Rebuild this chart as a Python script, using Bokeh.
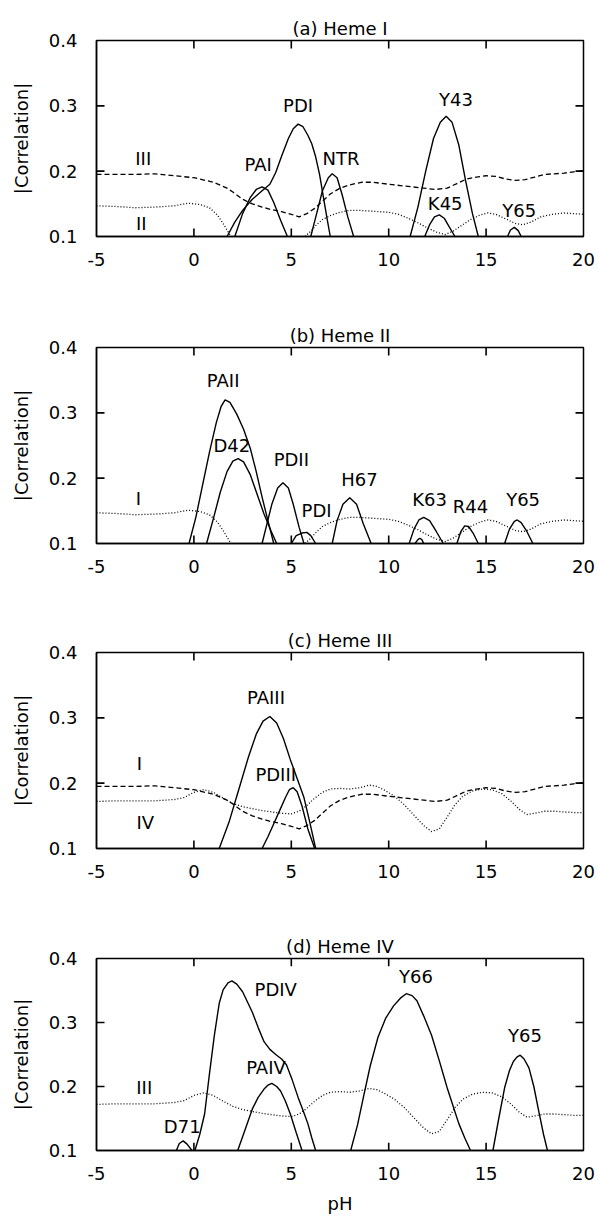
import math
from bokeh.plotting import figure
from bokeh.layouts import column
from bokeh.models import Range1d, FixedTicker, Label, PrintfTickFormatter
from bokeh.embed import file_html
from bokeh.resources import INLINE

NAN = float("nan")

# ---------------- data ----------------
x_ticks = [-5, 0, 5, 10, 15, 20]
x_tick_labels = ["-5", "0", "5", "10", "15", "20"]
y_ticks = [0.1, 0.2, 0.3, 0.4]
y_tick_labels = ["0.1", "0.2", "0.3", "0.4"]
titles = ["(a) Heme I", "(b) Heme II", "(c) Heme III", "(d) Heme IV"]

hemeI_III_x = [-5, -4, -3, -2, -1, 0, 1, 1.7, 2, 2.5, 3, 3.5, 4, 4.5, 5, 5.4, 5.8, 6.2, 6.6, 7.0, 7.5,
               8, 8.6, 9.2, 10, 10.6, 11.2, 11.8, 12.4, 13, 13.5, 14, 14.5, 15, 15.5, 16, 16.5, 17,
               17.5, 18, 18.5, 19, 19.5, 20]
hemeI_III_y = [0.195, 0.195, 0.195, 0.196, 0.193, 0.19, 0.183, 0.174, 0.168, 0.157, 0.15, 0.145,
               0.141, 0.138, 0.134, 0.13, 0.135, 0.143, 0.154, 0.165, 0.174, 0.179, 0.183, 0.183,
               0.18, 0.178, 0.176, 0.174, 0.172, 0.174, 0.181, 0.188, 0.191, 0.193, 0.192, 0.188,
               0.186, 0.187, 0.191, 0.195, 0.196, 0.197, 0.199, 0.201]

hemeI_II_x = [-5, -4, -3, -2, -1, -0.3, 0.3, 0.8, 1.2, 1.5, 1.8, 1.9, NAN, 5.7, 6.0, 6.3, 6.6, 7.0,
              7.5, 8.0, 8.5, 9.0, 9.5, 10, 10.5, 11, 11.5, 12, 12.5, 12.9, 13.3, 13.7, 14.2, 14.7,
              15.1, 15.5, 16, 16.5, 16.9, 17.3, 17.8, 18.4, 19, 19.5, 20]
hemeI_II_y = [0.147, 0.146, 0.144, 0.145, 0.147, 0.151, 0.149, 0.144, 0.133, 0.12, 0.105, 0.1, NAN,
              0.1, 0.108, 0.118, 0.126, 0.132, 0.137, 0.14, 0.14, 0.139, 0.138, 0.137, 0.134, 0.128,
              0.121, 0.113, 0.106, 0.103, 0.108, 0.116, 0.126, 0.133, 0.136, 0.134, 0.127, 0.12,
              0.118, 0.122, 0.13, 0.134, 0.136, 0.135, 0.134]

hemeIII_IV_x = [-5, -4, -3, -2, -1, -0.5, 0, 0.5, 1.0, 1.5, 2.0, 2.5, 3, 3.5, 4, 4.5, 5.0, 5.4, 5.8,
                6.2, 6.6, 7.0, 7.5, 8.0, 8.5, 9.0, 9.4, 9.8, 10.3, 10.8, 11.3, 11.8, 12.2, 12.6, 13.0,
                13.4, 13.8, 14.3, 14.8, 15.3, 15.8, 16.3, 16.7, 17.1, 17.5, 18, 18.5, 19, 19.5, 20]
hemeIII_IV_y = [0.172, 0.173, 0.173, 0.173, 0.175, 0.178, 0.186, 0.19, 0.186, 0.177, 0.169, 0.164,
                0.161, 0.158, 0.156, 0.154, 0.153, 0.157, 0.166, 0.177, 0.186, 0.191, 0.192, 0.191,
                0.193, 0.197, 0.195, 0.189, 0.18, 0.167, 0.151, 0.135, 0.126, 0.13, 0.148, 0.167,
                0.18, 0.188, 0.191, 0.19, 0.184, 0.172, 0.16, 0.152, 0.154, 0.157, 0.157, 0.156,
                0.155, 0.155]

a_PAI_x = [2.1, 2.5, 2.9, 3.2, 3.5, 3.8, 4.1, 4.45, 4.8]
a_PAI_y = [0.1, 0.135, 0.16, 0.172, 0.176, 0.171, 0.152, 0.125, 0.1]
a_PDI_x = [1.7, 2.1, 2.5, 3.0, 3.5, 3.9, 4.2, 4.5, 4.85, 5.1, 5.35, 5.6, 5.85, 6.05, 6.25, 6.45, 6.65, 6.85, 7.0]
a_PDI_y = [0.1, 0.122, 0.14, 0.157, 0.17, 0.18, 0.198, 0.223, 0.25, 0.265, 0.272, 0.268, 0.255, 0.242, 0.222, 0.195, 0.16, 0.125, 0.1]
a_NTR_x = [6.0, 6.3, 6.6, 6.9, 7.1, 7.35, 7.6, 7.9, 8.2]
a_NTR_y = [0.1, 0.135, 0.17, 0.19, 0.196, 0.19, 0.165, 0.13, 0.1]
a_Y43_x = [11.1, 11.5, 11.9, 12.3, 12.65, 12.95, 13.25, 13.6, 13.95, 14.3, 14.6]
a_Y43_y = [0.1, 0.145, 0.2, 0.25, 0.275, 0.284, 0.275, 0.24, 0.185, 0.135, 0.1]
a_K45_x = [11.85, 12.1, 12.35, 12.6, 12.85, 13.1, 13.4]
a_K45_y = [0.1, 0.118, 0.13, 0.133, 0.128, 0.115, 0.1]
a_Y65_x = [16.1, 16.25, 16.45, 16.65, 16.8]
a_Y65_y = [0.1, 0.11, 0.114, 0.109, 0.1]

b_PAII_x = [-0.25, 0.1, 0.45, 0.8, 1.15, 1.4, 1.6, 1.85, 2.2, 2.55, 2.9, 3.2, 3.5, 3.8, 4.1]
b_PAII_y = [0.1, 0.14, 0.19, 0.24, 0.285, 0.31, 0.32, 0.316, 0.298, 0.275, 0.245, 0.21, 0.171, 0.135, 0.1]
b_D42_x = [0.65, 1.0, 1.35, 1.7, 2.0, 2.27, 2.55, 2.9, 3.25, 3.6, 3.95, 4.25]
b_D42_y = [0.1, 0.138, 0.178, 0.21, 0.226, 0.23, 0.225, 0.205, 0.175, 0.145, 0.12, 0.1]
b_PDII_x = [3.5, 3.75, 4.0, 4.3, 4.57, 4.85, 5.1, 5.4, 5.65]
b_PDII_y = [0.1, 0.13, 0.16, 0.185, 0.193, 0.185, 0.16, 0.125, 0.1]
b_PDI_x = [5.0, 5.25, 5.55, 5.8, 6.0, 6.25]
b_PDI_y = [0.1, 0.112, 0.116, 0.117, 0.112, 0.1]
b_H67_x = [7.1, 7.35, 7.65, 8.0, 8.35, 8.7, 9.1]
b_H67_y = [0.1, 0.135, 0.16, 0.17, 0.16, 0.13, 0.1]
b_K63_x = [11.05, 11.3, 11.55, 11.8, 12.1, 12.45, 12.8]
b_K63_y = [0.1, 0.122, 0.136, 0.14, 0.135, 0.118, 0.1]
b_K75_x = [11.35, 11.5, 11.6, 11.7, 11.8]
b_K75_y = [0.1, 0.106, 0.108, 0.106, 0.1]
b_R44_x = [13.5, 13.7, 13.9, 14.1, 14.35, 14.6]
b_R44_y = [0.1, 0.118, 0.127, 0.126, 0.115, 0.1]
b_Y65_x = [15.95, 16.2, 16.45, 16.6, 16.8, 17.1, 17.4]
b_Y65_y = [0.1, 0.122, 0.134, 0.136, 0.132, 0.118, 0.1]

c_PAIII_x = [1.3, 1.8, 2.3, 2.8, 3.2, 3.55, 3.9, 4.25, 4.6, 4.95, 5.3, 5.65, 5.95, 6.25]
c_PAIII_y = [0.1, 0.14, 0.19, 0.24, 0.275, 0.295, 0.302, 0.292, 0.268, 0.236, 0.207, 0.178, 0.14, 0.1]
c_PDIII_x = [3.5, 3.8, 4.1, 4.4, 4.7, 4.9, 5.1, 5.3, 5.55, 5.85, 6.2]
c_PDIII_y = [0.1, 0.118, 0.138, 0.158, 0.178, 0.19, 0.193, 0.187, 0.165, 0.13, 0.1]

d_D71_x = [-0.9, -0.75, -0.55, -0.35, -0.1]
d_D71_y = [0.1, 0.111, 0.115, 0.11, 0.1]
d_PDIV_x = [0.05, 0.3, 0.55, 0.8, 1.05, 1.3, 1.5, 1.75, 1.95, 2.2, 2.5, 2.75, 3.0, 3.3, 3.6, 3.9,
            4.2, 4.5, 4.75, 5.05, 5.35, 5.6, 5.85, 6.05, 6.25]
d_PDIV_y = [0.1, 0.125, 0.157, 0.22, 0.28, 0.33, 0.351, 0.362, 0.365, 0.36, 0.348, 0.332, 0.316,
            0.292, 0.27, 0.258, 0.25, 0.243, 0.234, 0.21, 0.183, 0.163, 0.142, 0.12, 0.1]
d_PAIV_x = [2.25, 2.6, 3.0, 3.3, 3.6, 3.8, 4.0, 4.25, 4.45, 4.7, 4.95, 5.25, 5.55]
d_PAIV_y = [0.1, 0.13, 0.165, 0.183, 0.196, 0.202, 0.205, 0.2, 0.193, 0.177, 0.157, 0.128, 0.1]
d_Y66_x = [8.05, 8.4, 8.7, 9.05, 9.45, 9.85, 10.25, 10.6, 10.9, 11.2, 11.45, 11.8, 12.2, 12.6,
           13.0, 13.3, 13.6, 13.9, 14.2]
d_Y66_y = [0.1, 0.14, 0.183, 0.232, 0.277, 0.307, 0.326, 0.338, 0.345, 0.342, 0.334, 0.31, 0.28,
           0.24, 0.198, 0.17, 0.142, 0.12, 0.1]
d_Y65_x = [15.35, 15.65, 15.95, 16.2, 16.4, 16.58, 16.75, 16.95, 17.2, 17.45, 17.7, 17.95, 18.15]
d_Y65_y = [0.1, 0.15, 0.198, 0.225, 0.239, 0.246, 0.249, 0.243, 0.229, 0.2, 0.162, 0.125, 0.1]

a_lab_text = ["PAI", "PDI", "NTR", "Y43", "K45", "Y65", "III", "II"]
a_lab_x = [3.3, 5.35, 7.55, 13.45, 12.9, 16.7, -2.6, -2.7]
a_lab_y = [0.21, 0.30, 0.22, 0.31, 0.15, 0.14, 0.219, 0.12]
b_lab_text = ["PAII", "D42", "PDII", "PDI", "H67", "K63", "R44", "Y65", "K75", "I"]
b_lab_x = [1.5, 1.95, 5.0, 6.3, 8.5, 12.1, 14.2, 16.9, 12.0, -2.85]
b_lab_y = [0.35, 0.25, 0.228, 0.151, 0.198, 0.167, 0.157, 0.167, 0.08, 0.169]
c_lab_text = ["PAIII", "PDIII", "I", "IV"]
c_lab_x = [3.7, 4.2, -2.8, -2.5]
c_lab_y = [0.331, 0.213, 0.23, 0.14]
d_lab_text = ["PDIV", "Y66", "Y65", "PAIV", "III", "D71"]
d_lab_x = [4.2, 11.4, 17.0, 3.7, -2.55, -0.6]
d_lab_y = [0.351, 0.372, 0.28, 0.229, 0.199, 0.138]

FONT = "DejaVu Sans"
FS = "18px"
X_MIN, X_MAX = -5, 20
Y_MIN, Y_MAX = 0.1, 0.4
FIG_W, BORDER_L, BORDER_R, FRAME_H = 598, 96, 15, 196
TICK_PX = 8
TICK_COLOR = "black"


def make_panel(title, solids, dashed, dotted, labels, height, top, bottom, xlabel=None):
    p = figure(width=FIG_W, height=height, output_backend="svg", toolbar_location=None,
               x_range=Range1d(X_MIN, X_MAX), y_range=Range1d(Y_MIN, Y_MAX),
               min_border_left=BORDER_L, min_border_right=BORDER_R, min_border_top=top,
               min_border_bottom=bottom, title=title)
    p.title.align = "center"
    p.title.text_font = FONT
    p.title.text_font_size = FS
    p.title.text_font_style = "normal"
    p.title.text_color = "black"
    p.title.standoff = 3
    p.outline_line_color = "black"
    p.outline_line_width = 1.5
    p.xgrid.grid_line_color = None
    p.ygrid.grid_line_color = None
    p.background_fill_color = "white"
    p.border_fill_color = "white"

    for ax in (p.xaxis[0], p.yaxis[0]):
        ax.axis_line_color = "black"
        ax.axis_line_width = 1.5
        ax.major_tick_line_color = None
        ax.minor_tick_line_color = None
        ax.major_label_text_font = FONT
        ax.major_label_text_font_size = FS
        ax.major_label_text_color = "black"
    p.xaxis[0].ticker = FixedTicker(ticks=x_ticks)
    p.xaxis[0].major_label_overrides = dict(zip(x_ticks, x_tick_labels))
    p.yaxis[0].ticker = FixedTicker(ticks=y_ticks)
    p.yaxis[0].formatter = PrintfTickFormatter(format="%.1f")
    p.yaxis[0].major_label_overrides = dict(zip(y_ticks, y_tick_labels))
    p.xaxis[0].major_label_standoff = 10
    p.yaxis[0].major_label_standoff = 13
    p.yaxis[0].axis_label = "|Correlation|"
    p.yaxis[0].axis_label_text_font = FONT
    p.yaxis[0].axis_label_text_font_size = FS
    p.yaxis[0].axis_label_text_font_style = "normal"
    p.yaxis[0].axis_label_text_color = "black"
    p.yaxis[0].axis_label_standoff = 14
    if xlabel:
        p.xaxis[0].axis_label = xlabel
        p.xaxis[0].axis_label_text_font = FONT
        p.xaxis[0].axis_label_text_font_size = FS
        p.xaxis[0].axis_label_text_font_style = "normal"
        p.xaxis[0].axis_label_text_color = "black"
        p.xaxis[0].axis_label_standoff = 10

    # inward ticks on all four sides (gnuplot style)
    frame_w = FIG_W - BORDER_L - BORDER_R
    dx = TICK_PX * (X_MAX - X_MIN) / frame_w
    dy = TICK_PX * (Y_MAX - Y_MIN) / FRAME_H
    inner_x = [t for t in x_ticks if X_MIN < t < X_MAX]
    inner_y = [t for t in y_ticks if Y_MIN < t < Y_MAX]
    tk = dict(line_color=TICK_COLOR, line_width=1.6)
    p.segment(x0=inner_x, y0=[Y_MIN] * len(inner_x), x1=inner_x, y1=[Y_MIN + dy] * len(inner_x), **tk)
    p.segment(x0=inner_x, y0=[Y_MAX] * len(inner_x), x1=inner_x, y1=[Y_MAX - dy] * len(inner_x), **tk)
    p.segment(x0=[X_MIN] * len(inner_y), y0=inner_y, x1=[X_MIN + dx] * len(inner_y), y1=inner_y, **tk)
    p.segment(x0=[X_MAX] * len(inner_y), y0=inner_y, x1=[X_MAX - dx] * len(inner_y), y1=inner_y, **tk)

    for xs, ys in dashed:
        p.line(xs, ys, line_color="black", line_width=1.3, line_dash="5 3")
    for xs, ys in dotted:
        p.line(xs, ys, line_color="black", line_width=1.3, line_dash="1 2")
    for xs, ys in solids:
        p.line(xs, ys, line_color="black", line_width=1.4)

    texts, lx, ly = labels
    for t, x, y in zip(texts, lx, ly):
        p.add_layout(Label(x=x, y=y, text=t, text_align="center", text_baseline="middle",
                           text_font=FONT, text_font_size=FS, text_color="black"))
    return p


pa = make_panel(titles[0],
                [(a_PAI_x, a_PAI_y), (a_PDI_x, a_PDI_y), (a_NTR_x, a_NTR_y),
                 (a_Y43_x, a_Y43_y), (a_K45_x, a_K45_y), (a_Y65_x, a_Y65_y)],
                [(hemeI_III_x, hemeI_III_y)], [(hemeI_II_x, hemeI_II_y)],
                (a_lab_text, a_lab_x, a_lab_y), 306, 40, 70)
pb = make_panel(titles[1],
                [(b_PAII_x, b_PAII_y), (b_D42_x, b_D42_y), (b_PDII_x, b_PDII_y),
                 (b_PDI_x, b_PDI_y), (b_H67_x, b_H67_y), (b_K63_x, b_K63_y),
                 (b_K75_x, b_K75_y), (b_R44_x, b_R44_y), (b_Y65_x, b_Y65_y)],
                [], [(hemeI_II_x, hemeI_II_y)],
                (b_lab_text, b_lab_x, b_lab_y), 306, 41, 69)
pc = make_panel(titles[2],
                [(c_PAIII_x, c_PAIII_y), (c_PDIII_x, c_PDIII_y)],
                [(hemeI_III_x, hemeI_III_y)], [(hemeIII_IV_x, hemeIII_IV_y)],
                (c_lab_text, c_lab_x, c_lab_y), 306, 40, 70)
pd = make_panel(titles[3],
                [(d_D71_x, d_D71_y), (d_PDIV_x, d_PDIV_y), (d_PAIV_x, d_PAIV_y),
                 (d_Y66_x, d_Y66_y), (d_Y65_x, d_Y65_y)],
                [], [(hemeIII_IV_x, hemeIII_IV_y)],
                (d_lab_text, d_lab_x, d_lab_y), 298, 40, 62, xlabel="pH")

layout = column(pa, pb, pc, pd)
open("out.html", "w").write(file_html(layout, INLINE))
